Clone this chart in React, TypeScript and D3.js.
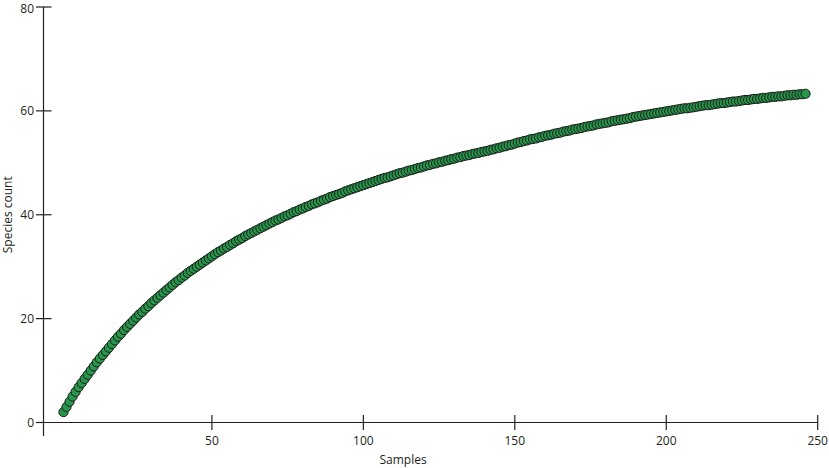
import React from "react";
import * as d3 from "d3";

const xTicks = [50, 100, 150, 200, 250];
const yTicks = [0, 20, 40, 60, 80];

const speciesCount = [
  2.0, 3.0, 4.0, 5.0, 5.9, 6.8, 7.6, 8.4, 9.2, 10.0,
  10.8, 11.6, 12.3, 13.0, 13.7, 14.4, 15.1, 15.8, 16.5, 17.1,
  17.8, 18.4, 19.0, 19.6, 20.2, 20.8, 21.3, 21.9, 22.4, 23.0,
  23.5, 24.0, 24.5, 25.0, 25.5, 26.0, 26.5, 27.0, 27.4, 27.9,
  28.3, 28.8, 29.2, 29.6, 30.0, 30.4, 30.8, 31.2, 31.6, 32.0,
  32.4, 32.8, 33.1, 33.5, 33.8, 34.2, 34.5, 34.9, 35.2, 35.5,
  35.9, 36.2, 36.5, 36.8, 37.1, 37.4, 37.7, 38.0, 38.3, 38.6,
  38.9, 39.1, 39.4, 39.7, 39.9, 40.2, 40.5, 40.7, 41.0, 41.2,
  41.5, 41.7, 42.0, 42.2, 42.4, 42.7, 42.9, 43.1, 43.4, 43.6,
  43.8, 44.0, 44.2, 44.5, 44.7, 44.9, 45.1, 45.3, 45.5, 45.7,
  45.9, 46.1, 46.3, 46.5, 46.7, 46.9, 47.1, 47.2, 47.4, 47.6,
  47.8, 48.0, 48.1, 48.3, 48.5, 48.6, 48.8, 49.0, 49.1, 49.3,
  49.5, 49.6, 49.8, 49.9, 50.1, 50.2, 50.4, 50.5, 50.7, 50.8,
  51.0, 51.1, 51.3, 51.4, 51.5, 51.7, 51.8, 51.9, 52.1, 52.2,
  52.3, 52.5, 52.6, 52.8, 52.9, 53.1, 53.2, 53.4, 53.5, 53.7,
  53.9, 54.0, 54.2, 54.3, 54.5, 54.6, 54.7, 54.9, 55.0, 55.2,
  55.3, 55.4, 55.6, 55.7, 55.8, 56.0, 56.1, 56.2, 56.4, 56.5,
  56.6, 56.7, 56.9, 57.0, 57.1, 57.2, 57.4, 57.5, 57.6, 57.7,
  57.8, 58.0, 58.1, 58.2, 58.3, 58.4, 58.5, 58.6, 58.8, 58.9,
  59.0, 59.1, 59.2, 59.3, 59.4, 59.5, 59.6, 59.7, 59.8, 59.9,
  60.0, 60.1, 60.2, 60.3, 60.4, 60.5, 60.5, 60.6, 60.7, 60.8,
  60.9, 61.0, 61.1, 61.1, 61.2, 61.3, 61.4, 61.5, 61.5, 61.6,
  61.7, 61.8, 61.8, 61.9, 62.0, 62.1, 62.1, 62.2, 62.3, 62.3,
  62.4, 62.5, 62.5, 62.6, 62.7, 62.7, 62.8, 62.8, 62.9, 63.0,
  63.0, 63.1, 63.1, 63.2, 63.2, 63.3,
];

const samples = speciesCount.map((_, i) => i + 1);

const W = 829;
const H = 468;
const FONT = "'Open Sans', 'Liberation Sans', sans-serif";
const AXIS = "#231f20";

export default function App() {
  const x = d3.scaleLinear().domain([-5.6, 250]).range([43.5, 817.7]);
  const y = d3.scaleLinear().domain([0, 80]).range([422.5, 7]);
  const x0 = x(-5.6);
  const y0 = y(0);

  return (
    <svg
      width={W}
      height={H}
      style={{ position: "absolute", left: 0, top: 0, background: "#fff" }}
    >
      <line x1={36} x2={x(250)} y1={y0} y2={y0} stroke={AXIS} strokeWidth={1.2} />
      <line x1={x0} x2={x0} y1={y(80)} y2={436} stroke={AXIS} strokeWidth={1.2} />
      {xTicks.map((t) => (
        <g key={"xt" + t}>
          <line x1={x(t)} x2={x(t)} y1={y0 - 7.5} y2={y0 + 7.5} stroke={AXIS} strokeWidth={1.2} />
          <text
            x={x(t)}
            y={445}
            textAnchor="middle"
            fontFamily={FONT}
            fontSize={12}
            fill={AXIS}
          >
            {t}
          </text>
        </g>
      ))}
      {yTicks.map((t) => (
        <g key={"yt" + t}>
          <line
            x1={36}
            x2={t === 0 ? x0 : 51.5}
            y1={y(t)}
            y2={y(t)}
            stroke={AXIS}
            strokeWidth={1.2}
          />
          <text
            x={34}
            y={Math.max(y(t), 8.5)}
            dy="0.35em"
            textAnchor="end"
            fontFamily={FONT}
            fontSize={12}
            fill={AXIS}
          >
            {t}
          </text>
        </g>
      ))}
      <text
        x={(x(0) + x(250)) / 2 - 36}
        y={464}
        textAnchor="middle"
        fontFamily={FONT}
        fontSize={12}
        fill={AXIS}
      >
        Samples
      </text>
      <text
        transform={`translate(12, ${y(40)}) rotate(-90)`}
        textAnchor="middle"
        fontFamily={FONT}
        fontSize={12}
        fill={AXIS}
      >
        Species count
      </text>
      {samples.map((s, i) => (
        <circle
          key={s}
          cx={x(s)}
          cy={y(speciesCount[i])}
          r={4.6}
          fill="#27964a"
          stroke="#1b1b1b"
          strokeWidth={1}
        />
      ))}
    </svg>
  );
}
